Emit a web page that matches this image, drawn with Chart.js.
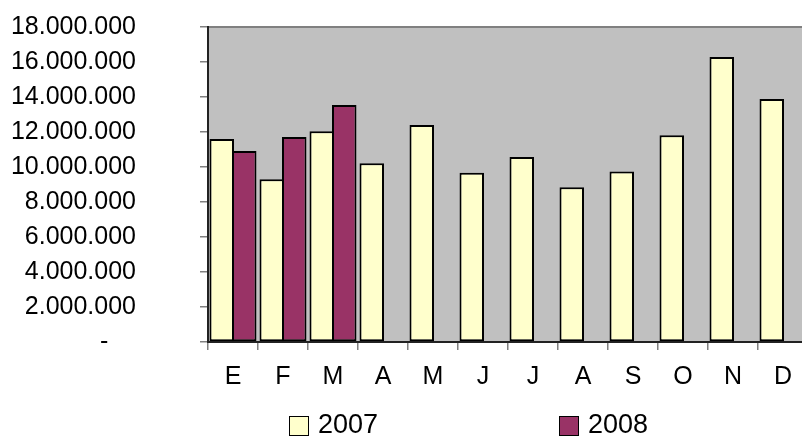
<!DOCTYPE html>
<html>
<head>
<meta charset="utf-8">
<script src="https://cdn.jsdelivr.net/npm/chart.js@4"></script>
<style>
  html, body { margin:0; padding:0; background:#fff; overflow:hidden; }
  #wrap { position:relative; width:812px; height:437px; }
  #c { display:block; }
  .lg-item { position:absolute; top:0; left:0; font-family:'Liberation Sans', Arial, sans-serif; font-size:27px; color:#000; }
  .lg-box { position:absolute; width:20px; height:20px; box-sizing:border-box; border:1.5px solid #000; }
  .lg-text { position:absolute; white-space:nowrap; line-height:normal; }
</style>
</head>
<body>
<div id="wrap">
  <canvas id="c" width="812" height="437"></canvas>
  <div id="legend"></div>
</div>
<script>
// ---- data ----
const categories = ['E','F','M','A','M','J','J','A','S','O','N','D'];
const seriesNames = ['2007', '2008'];
const values2007 = [11600000, 9300000, 12050000, 10220000, 12400000, 9670000, 10570000, 8850000, 9750000, 11810000, 16280000, 13880000];
const values2008 = [10910000, 11710000, 13550000, null, null, null, null, null, null, null, null, null];
const yTickValues = [0, 2000000, 4000000, 6000000, 8000000, 10000000, 12000000, 14000000, 16000000, 18000000];
const yTickLabels = ['-', '2.000.000', '4.000.000', '6.000.000', '8.000.000', '10.000.000', '12.000.000', '14.000.000', '16.000.000', '18.000.000'];

const colors = ['#FFFFCC', '#993366'];
const FONT = "'Liberation Sans', Arial, sans-serif";

const plotBg = {
  id: 'plotBg',
  beforeDraw(chart) {
    const {ctx, chartArea: a} = chart;
    ctx.save();
    ctx.fillStyle = '#C0C0C0';
    ctx.fillRect(a.left, a.top, a.right - a.left, a.bottom - a.top);
    ctx.strokeStyle = '#808080';
    ctx.lineWidth = 2;
    ctx.beginPath();
    ctx.moveTo(a.left, a.top);
    ctx.lineTo(a.right, a.top);
    ctx.stroke();
    ctx.restore();
  }
};

const htmlLegend = {
  id: 'htmlLegend',
  afterUpdate(chart) {
    const el = document.getElementById('legend');
    el.innerHTML = '';
    const starts = [289, 559];
    chart.data.datasets.forEach((ds, i) => {
      const item = document.createElement('div');
      item.className = 'lg-item';
      const box = document.createElement('span');
      box.className = 'lg-box';
      box.style.background = ds.backgroundColor;
      box.style.left = starts[i] + 'px';
      box.style.top = '416px';
      const txt = document.createElement('span');
      txt.className = 'lg-text';
      txt.textContent = ds.label;
      txt.style.left = (starts[i] + 29) + 'px';
      txt.style.top = '409px';
      item.appendChild(box);
      item.appendChild(txt);
      el.appendChild(item);
    });
  }
};

new Chart(document.getElementById('c'), {
  type: 'bar',
  data: {
    labels: categories,
    datasets: [
      { label: seriesNames[0], data: values2007, backgroundColor: colors[0], borderColor: '#000', borderWidth: 2, borderSkipped: false },
      { label: seriesNames[1], data: values2008, backgroundColor: colors[1], borderColor: '#000', borderWidth: 2, borderSkipped: false }
    ]
  },
  options: {
    responsive: false,
    animation: false,
    devicePixelRatio: 1,
    categoryPercentage: 0.9,
    barPercentage: 1.089,
    layout: { padding: { left: 10, top: 27, right: 4, bottom: 33 } },
    plugins: {
      legend: { display: false },
      tooltip: { enabled: false },
      title: { display: false }
    },
    scales: {
      x: {
        offset: true,
        grid: { offset: true, drawOnChartArea: false, drawTicks: true, tickLength: 8, color: '#808080', lineWidth: 1.5 },
        border: { display: true, color: '#222', width: 2 },
        ticks: { color: '#000', font: { family: FONT, size: 25 }, padding: 12, maxRotation: 0, autoSkip: false }
      },
      y: {
        min: 0,
        max: 18000000,
        afterBuildTicks(scale) { scale.ticks = yTickValues.map(v => ({ value: v })); },
        afterFit(scale) { scale.width = 198; scale.paddingTop = 0; scale.paddingBottom = 0; },
        grid: { drawOnChartArea: false, drawTicks: true, tickLength: 8, color: '#808080', lineWidth: 1.5 },
        border: { display: true, color: '#222', width: 2 },
        ticks: {
          color: '#000',
          font: { family: FONT, size: 25 },
          padding: 64,
          autoSkip: false,
          callback(value) {
            const i = yTickValues.indexOf(value);
            const s = i >= 0 ? yTickLabels[i] : '';
            return s === '-' ? '-    ' : s;
          }
        }
      }
    }
  },
  plugins: [plotBg, htmlLegend]
});
</script>
</body>
</html>
